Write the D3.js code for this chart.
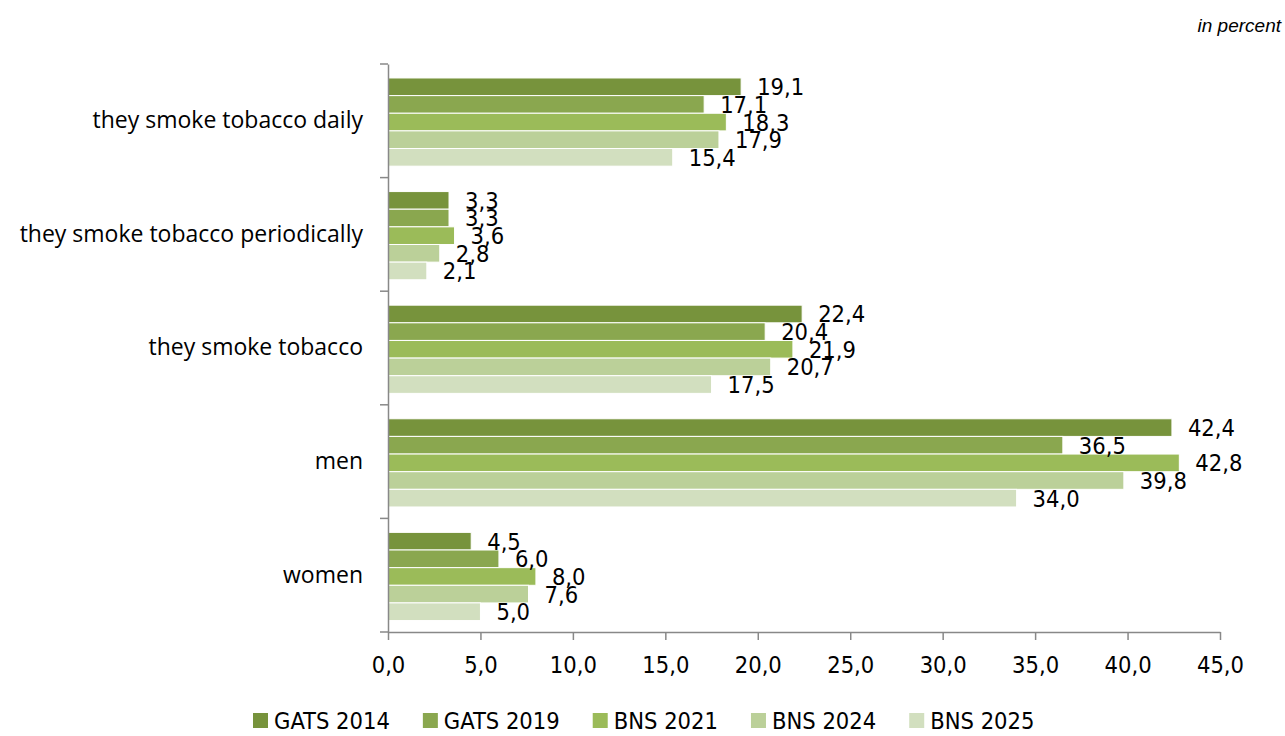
<!DOCTYPE html>
<html><head><meta charset="utf-8">
<script src="https://cdn.jsdelivr.net/npm/d3@7"></script>
<style>body{margin:0;background:#fff}svg{display:block}</style>
</head><body>
<svg id="c" width="1285" height="736"></svg>
<script>
const categories = ["they smoke tobacco daily","they smoke tobacco periodically","they smoke tobacco","men","women"];
const seriesNames = ["GATS 2014","GATS 2019","BNS 2021","BNS 2024","BNS 2025"];
const gats2014 = [19.1, 3.3, 22.4, 42.4, 4.5];
const gats2019 = [17.1, 3.3, 20.4, 36.5, 6.0];
const bns2021  = [18.3, 3.6, 21.9, 42.8, 8.0];
const bns2024  = [17.9, 2.8, 20.7, 39.8, 7.6];
const bns2025  = [15.4, 2.1, 17.5, 34.0, 5.0];
const xTicks = [0,5,10,15,20,25,30,35,40,45];
const colors = ["#77933C","#8AA74F","#9BBB59","#BBD099","#D2DFBF"];

const seriesValues = [gats2014,gats2019,bns2021,bns2024,bns2025];
const svg = d3.select("#c");
const L = 388, R = 1220, T = 64, B = 632;
const fmt = v => v.toFixed(1).replace(".", ",");
const numFont = "'DejaVu Sans Condensed','Liberation Sans Narrow',sans-serif";
const catFont = "'Open Sans','Noto Sans',sans-serif";

const x = d3.scaleLinear().domain([0,45]).range([L,R]);
const y = d3.scaleBand().domain(categories).range([T,B]);
const inner = d3.scaleBand().domain(seriesNames).range([0,y.bandwidth()]).paddingOuter(0.72).align(0.55);

// bars
categories.forEach((cat,ci)=>{
  const g = svg.append("g");
  seriesNames.forEach((s,si)=>{
    const v = seriesValues[si][ci];
    g.append("rect").attr("x",x(0)).attr("y",y(cat)+inner(s))
      .attr("width",x(v)-x(0)).attr("height",inner.bandwidth())
      .attr("fill",colors[si]).attr("stroke","#fff").attr("stroke-width",1);
  });
  seriesNames.forEach((s,si)=>{
    const v = seriesValues[si][ci];
    g.append("text").attr("x",x(v)+16).attr("y",y(cat)+inner(s)+inner.bandwidth()/2)
      .attr("dy","0.36em").attr("font-family",numFont).attr("font-size",23.5)
      .attr("fill","#000").text(fmt(v));
  });
});

// x axis
const xa = svg.append("g").attr("transform",`translate(0,${B})`)
  .call(d3.axisBottom(x).tickValues(xTicks).tickSize(8).tickSizeOuter(0).tickFormat(fmt).tickPadding(16));
xa.select(".domain").attr("stroke","#888").attr("stroke-width",1.5);
xa.selectAll(".tick line").attr("stroke","#888").attr("stroke-width",1.5);
xa.selectAll("text").attr("font-family",numFont).attr("font-size",23.5).attr("fill","#000");

// y axis
const ya = svg.append("g").attr("transform",`translate(${L},0)`)
  .call(d3.axisLeft(y).tickSize(0).tickPadding(25));
ya.select(".domain").attr("stroke","#888").attr("stroke-width",1.5);
ya.selectAll("text").attr("font-family",catFont).attr("font-size",23).attr("fill","#000");
const bounds = categories.map(c=>y(c)).concat([B]);
svg.append("g").selectAll("line").data(bounds).join("line")
  .attr("x1",L-8).attr("x2",L).attr("y1",d=>d).attr("y2",d=>d)
  .attr("stroke","#888").attr("stroke-width",1.5);

// unit note
svg.append("text").attr("x",1281).attr("y",32).attr("text-anchor","end")
  .attr("font-family","'Liberation Sans',Arial,sans-serif").attr("font-style","italic")
  .attr("font-size",19).text("in percent");

// legend
const lg = svg.append("g").attr("transform","translate(253,721)");
let lx = 0;
seriesNames.forEach((s,si)=>{
  const it = lg.append("g").attr("transform",`translate(${lx},0)`);
  it.append("rect").attr("x",0).attr("y",-8).attr("width",15).attr("height",15).attr("fill",colors[si]);
  const t = it.append("text").attr("x",21).attr("y",0).attr("dy","0.36em")
    .attr("font-family",numFont).attr("font-size",23.5).text(s);
  lx += 21 + t.node().getComputedTextLength() + 33;
});
</script>
</body></html>
